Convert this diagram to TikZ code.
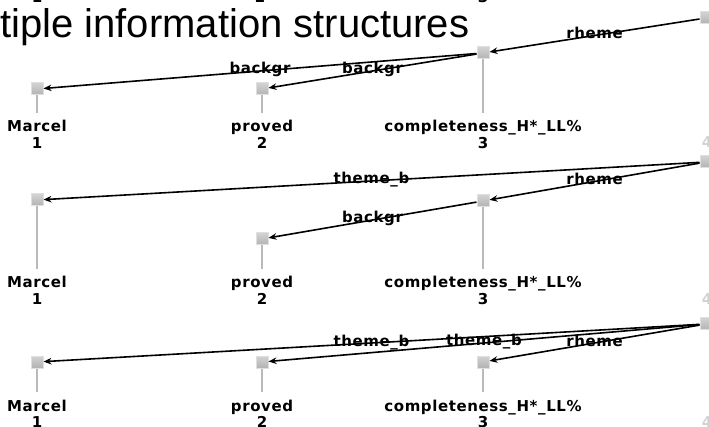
\documentclass[tikz,border=0pt]{standalone}
\usepackage{fontspec}
\setmainfont{Liberation Sans}
\newfontfamily\labelfont[LetterSpace=4]{DejaVu Sans}
\usepackage{tikz}
\usetikzlibrary{arrows.meta, positioning}

\begin{document}
\begin{tikzpicture}[x=1pt, y=-1pt,
    sq/.style={rectangle, draw=gray!25, top color=gray!35, bottom color=gray!60, line width=1pt, minimum size=12pt, inner sep=0pt},
    word/.style={font=\labelfont\bfseries\fontsize{15}{15}\selectfont, text height=11pt, text depth=3pt, inner sep=0pt},
    faint/.style={word, text=gray!35},
    stem/.style={draw=gray!55, line width=1.6pt, shorten >=8pt},
    arrow/.style={-{Stealth[length=8pt,width=6.5pt]}, line width=1.6pt},
    elab/.style={word, yshift=1pt}
]
\useasboundingbox (0,0) rectangle (709,427);
\clip (0,0) rectangle (709,427);

% numbers of the structure above, cut off
\node[word, anchor=base] (top1) at (37,3) {1};
\node[word, anchor=base] (top2) at (260,3) {2};
\node[word, anchor=base] (top3) at (483,3) {3};

\node[anchor=base west, inner sep=0pt, font=\fontsize{40}{40}\selectfont] (title) at (0,38) {tiple information structures};

% first structure
\node[sq] (r1) at (706,18) {};
\node[sq] (c1) at (483,53) {};
\node[sq] (m1) at (37,89) {};
\node[sq] (p1) at (262,89) {};
\node[word] (wm1) at (37,128) {Marcel};
\node[word] (wp1) at (262,128) {proved};
\node[word] (wc1) at (483,128) {completeness\_H*\_LL\%};
\node[word, below=2pt of wm1] (nm1) {1};
\node[word, below=2pt of wp1] (np1) {2};
\node[word, below=2pt of wc1] (nc1) {3};
\node[faint] (nr1) at (707,144) {4};
\draw[stem] (m1) -- (wm1);
\draw[stem] (p1) -- (wp1);
\draw[stem] (c1) -- (wc1);
\draw[arrow] (r1) -- node[elab] {rheme} (c1);
\draw[arrow] (c1) -- node[elab] {backgr} (m1);
\draw[arrow] (c1) -- node[elab] {backgr} (p1);

% second structure
\node[sq] (r2) at (706,162) {};
\node[sq] (c2) at (483,201) {};
\node[sq] (m2) at (37,200) {};
\node[sq] (p2) at (262,239) {};
\node[word] (wm2) at (37,284) {Marcel};
\node[word] (wp2) at (262,284) {proved};
\node[word] (wc2) at (483,284) {completeness\_H*\_LL\%};
\node[word, below=2pt of wm2] (nm2) {1};
\node[word, below=2pt of wp2] (np2) {2};
\node[word, below=2pt of wc2] (nc2) {3};
\node[faint] (nr2) at (707,301) {4};
\draw[stem] (m2) -- (wm2);
\draw[stem] (p2) -- (wp2);
\draw[stem] (c2) -- (wc2);
\draw[arrow] (r2) -- node[elab] {theme\_b} (m2);
\draw[arrow] (r2) -- node[elab] {rheme} (c2);
\draw[arrow] (c2) -- node[elab] {backgr} (p2);

% third structure
\node[sq] (r3) at (706,324) {};
\node[sq] (c3) at (483,362) {};
\node[sq] (m3) at (37,362) {};
\node[sq] (p3) at (262,362) {};
\node[word] (wm3) at (37,407) {Marcel};
\node[word] (wp3) at (262,407) {proved};
\node[word] (wc3) at (483,407) {completeness\_H*\_LL\%};
\node[word, below=2pt of wm3] (nm3) {1};
\node[word, below=2pt of wp3] (np3) {2};
\node[word, below=2pt of wc3] (nc3) {3};
\node[faint] (nr3) at (707,423) {4};
\draw[stem] (m3) -- (wm3);
\draw[stem] (p3) -- (wp3);
\draw[stem] (c3) -- (wc3);
\draw[arrow] (r3) -- node[elab] {theme\_b} (m3);
\draw[arrow] (r3) -- node[elab] {theme\_b} (p3);
\draw[arrow] (r3) -- node[elab] {rheme} (c3);

\end{tikzpicture}
\end{document}
